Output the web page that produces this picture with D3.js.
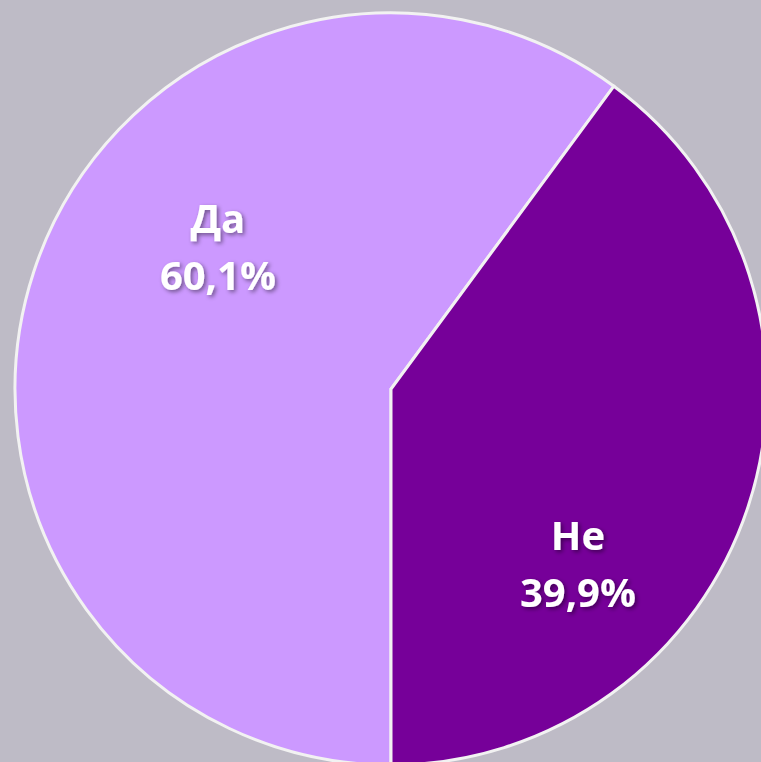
<!DOCTYPE html>
<html>
<head>
<meta charset="utf-8">
<script src="https://cdn.jsdelivr.net/npm/d3@7"></script>
<style>
  html, body { margin: 0; padding: 0; background: #bebbc6; overflow: hidden; }
  svg { display: block; }
</style>
</head>
<body>
<svg id="chart" width="761" height="762"></svg>
<script>
// Answers and their shares (percent)
const answers = ["Да", "Не"];
const shares = [60.1, 39.9];
const shareLabels = ["60,1%", "39,9%"];
const sliceColors = ["#cc99ff", "#760099"];

const svg = d3.select("#chart"),
    width = +svg.attr("width"),
    height = +svg.attr("height");

const [cx, cy, radius] = [391, 389, 376];

// Soft shadow under the labels
const defs = svg.append("defs");
defs.append("filter")
    .attr("id", "shadow")
    .attr("x", "-20%").attr("y", "-20%").attr("width", "140%").attr("height", "140%")
    .append("feDropShadow")
    .attr("dx", 2).attr("dy", 2)
    .attr("stdDeviation", 2)
    .attr("flood-color", "#000")
    .attr("flood-opacity", 0.45);

const color = d3.scaleOrdinal().domain(answers).range(sliceColors);

let pie = d3.pie()
    .sort(null)
    .value(d => d.value)
    .startAngle(Math.PI)
    .endAngle(3 * Math.PI);

let arc = d3.arc().innerRadius(0).outerRadius(radius);

let data = answers.map((a, i) => ({answer: a, value: shares[i], label: shareLabels[i]}));
let arcs = pie(data);

let g = svg.append("g").attr("transform", "translate(" + cx + "," + cy + ")");

g.selectAll("path")
    .data(arcs)
    .enter()
    .append("path")
    .attr("d", arc)
    .attr("fill", d => color(d.data.answer))
    .attr("stroke", "#f2f2f2")
    .attr("stroke-width", 3)
    .attr("stroke-linejoin", "miter");

// label anchors: angle (clockwise from 12 o'clock, degrees) and distance from centre
const labelPolar = [[309.4, 224], [133.1, 256]];

let labels = g.selectAll("g.label")
    .data(arcs)
    .enter()
    .append("g")
    .attr("class", "label")
    .attr("transform", (d, i) => {
        let a = labelPolar[i][0] * Math.PI / 180, r = labelPolar[i][1];
        return "translate(" + (r * Math.sin(a)) + "," + (-r * Math.cos(a)) + ")";
    })
    .attr("filter", "url(#shadow)");

labels.append("text")
    .attr("text-anchor", "middle")
    .attr("y", -14)
    .attr("font-family", "'Open Sans', 'DejaVu Sans', sans-serif")
    .attr("font-weight", "bold")
    .attr("font-size", 40)
    .attr("fill", "#ffffff")
    .text(d => d.data.answer);

labels.append("text")
    .attr("text-anchor", "middle")
    .attr("y", 43)
    .attr("font-family", "'Open Sans', 'DejaVu Sans', sans-serif")
    .attr("font-weight", "bold")
    .attr("font-size", 40)
    .attr("fill", "#ffffff")
    .text(d => d.data.label);
</script>
</body>
</html>
